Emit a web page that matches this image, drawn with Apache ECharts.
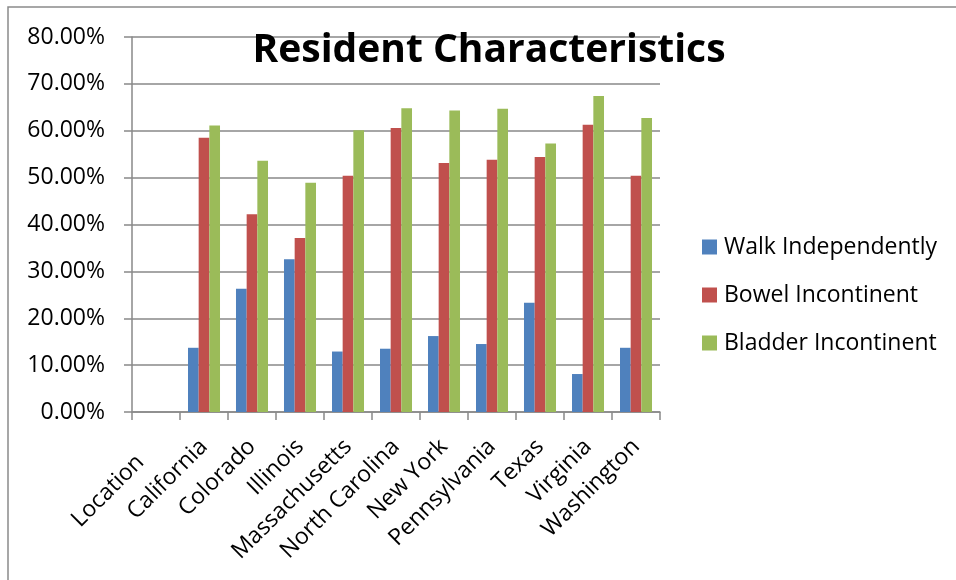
<!DOCTYPE html>
<html>
<head>
<meta charset="utf-8">
<script src="https://cdn.jsdelivr.net/npm/echarts@6/dist/echarts.min.js"></script>
<style>
html,body{margin:0;padding:0;background:#fff;}
#chart{width:956px;height:580px;}
</style>
</head>
<body>
<div id="chart"></div>
<script>
const titleText = 'Resident Characteristics';
const categories = ['Location','California','Colorado','Illinois','Massachusetts','North Carolina','New York','Pennsylvania','Texas','Virginia','Washington'];
const seriesNames = ['Walk Independently','Bowel Incontinent','Bladder Incontinent'];
const walkIndependently = [null,13.7,26.3,32.6,12.9,13.5,16.2,14.5,23.3,8.1,13.7];
const bowelIncontinent = [null,58.5,42.2,37.1,50.4,60.6,53.1,53.8,54.4,61.3,50.4];
const bladderIncontinent = [null,61.1,53.6,48.9,60.1,64.8,64.3,64.7,57.3,67.4,62.7];
const yMin = 0;
const yMax = 80;
const yStep = 10;

const colors = ['#4F81BD','#C0504D','#9BBB59'];
const font = '"Open Sans", "Liberation Sans", sans-serif';
const gray = '#898989';

const chart = echarts.init(document.getElementById('chart'), null, {renderer:'canvas'});
chart.setOption({
  animation: false,
  backgroundColor: '#fff',
  color: colors,
  graphic: [{
    type: 'rect', silent: true, z: -10,
    shape: {x: 8, y: 7, width: 1000, height: 1000},
    style: {fill: 'none', stroke: '#8a8a8a', lineWidth: 1.5}
  }],
  title: {
    text: titleText,
    left: 489, top: 31, padding: 0, textAlign: 'center',
    textStyle: {fontFamily: font, fontWeight: 'bold', fontSize: 39, color: '#000'}
  },
  legend: {
    orient: 'vertical',
    left: 702, top: 235, padding: 0,
    icon: 'rect', itemWidth: 15, itemHeight: 15, itemGap: 24,
    itemStyle: {borderWidth: 0},
    textStyle: {fontFamily: font, fontSize: 23, color: '#000', lineHeight: 24, padding: [0,0,0,2]},
    data: seriesNames
  },
  grid: {left: 132, right: 296, top: 37, bottom: 168, containLabel: false},
  xAxis: {
    type: 'category',
    data: categories,
    boundaryGap: true,
    axisLine: {lineStyle: {color: gray, width: 1.5}},
    axisTick: {show: true, length: 8, inside: false, lineStyle: {color: gray, width: 1.5}},
    axisLabel: {rotate: 45, margin: 31, interval: 0, fontFamily: font, fontSize: 23, color: '#000',
      formatter: (v, i) => i === 0 ? '{first|' + v + '}' : v,
      rich: {first: {fontFamily: font, fontSize: 23, color: '#000', padding: [0, 22, 0, 0]}}
    },
    splitLine: {show: false}
  },
  yAxis: {
    type: 'value',
    min: yMin, max: yMax, interval: yStep,
    axisLine: {show: true, lineStyle: {color: gray, width: 1.5}},
    axisTick: {show: true, length: 8, inside: false, lineStyle: {color: gray, width: 1.5}},
    axisLabel: {margin: 27, fontFamily: font, fontSize: 23, color: '#000',
      formatter: v => v.toFixed(2) + '%'},
    splitLine: {show: true, lineStyle: {color: gray, width: 1.5}}
  },
  series: [
    {name: seriesNames[0], type: 'bar', data: walkIndependently, barGap: '0%', barCategoryGap: '33.3%'},
    {name: seriesNames[1], type: 'bar', data: bowelIncontinent, barGap: '0%', barCategoryGap: '33.3%'},
    {name: seriesNames[2], type: 'bar', data: bladderIncontinent, barGap: '0%', barCategoryGap: '33.3%'}
  ]
});
</script>
</body>
</html>
